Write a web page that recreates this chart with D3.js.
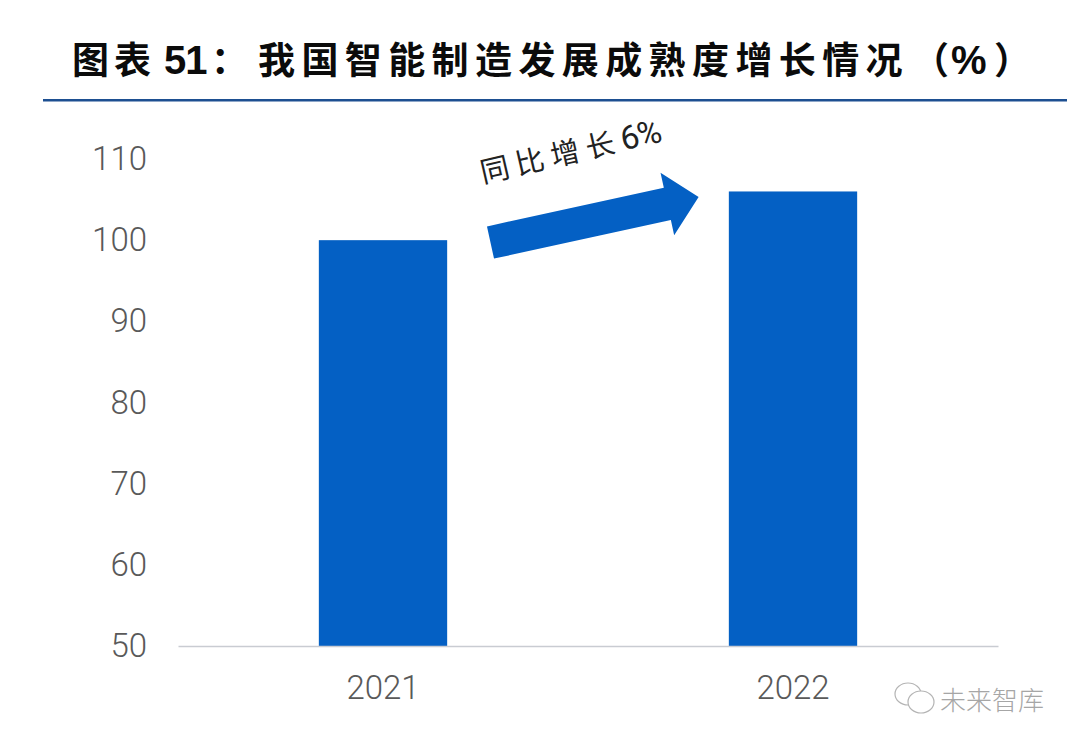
<!DOCTYPE html>
<html><head><meta charset="utf-8">
<script src="https://cdn.jsdelivr.net/npm/d3@7"></script>
<style>
html,body{margin:0;padding:0;background:#fff;}
svg{display:block;}
</style></head><body>
<svg id="c" width="1080" height="747"></svg>
<script>
const categories = ["2021", "2022"];
const values = [100, 106];
const yTicks = [50, 60, 70, 80, 90, 100, 110];
const titleParts = ["图表", "51", "：", "我国智能制造发展成熟度增长情况", "（", "%", "）"];
const annotationParts = ["同比增长", "6%"];
const watermarkText = "未来智库";

const svg = d3.select("#c");
const W = 1080, H = 747;
const BLUE = "#0460c4";
const m = {left:178, right:998, top:159, bottom:646};
const CJK = "'Noto Sans CJK SC'", LATIN = "'Liberation Sans'";

const x = d3.scaleBand().domain(categories).range([m.left, m.right]).paddingInner(0.687).paddingOuter(0.3435);
const y = d3.scaleLinear().domain([50,110]).range([m.bottom, m.top]);

svg.append("rect").attr("width",W).attr("height",H).attr("fill","#fff");

// Title: each segment gets its own start, font and tracking
const titleX  = [72, 164, 211, 258, 912, 951, 994];
const titleLS = [5, -1, 0, 6.4, 0, 0, 0];
const titleFS = [37, 40, 37, 37, 37, 40, 37];
const titleF  = [CJK, LATIN, CJK, CJK, CJK, LATIN, CJK];
const title = svg.append("text").attr("y",74).attr("font-weight",700).attr("fill","#0b0b0b");
title.selectAll("tspan").data(titleParts).join("tspan")
  .attr("x",(d,i)=>titleX[i]).attr("font-family",(d,i)=>titleF[i])
  .attr("font-size",(d,i)=>titleFS[i]).attr("letter-spacing",(d,i)=>titleLS[i]).text(d=>d);
svg.append("rect").attr("x",43).attr("y",99).attr("width",1024).attr("height",2.5).attr("fill","#1d4f91");

// Bars
svg.selectAll("rect.bar").data(values).join("rect").attr("class","bar")
  .attr("x",(d,i)=>x(categories[i])).attr("width",x.bandwidth())
  .attr("y",d=>y(d)).attr("height",d=>y(50)-y(d)).attr("fill",BLUE);

// Axes
const gy = svg.append("g").attr("transform",`translate(${m.left},0)`)
  .call(d3.axisLeft(y).tickValues(yTicks).tickSize(0).tickPadding(31));
gy.select(".domain").remove();
gy.selectAll("text").attr("font-family","Roboto").attr("font-weight",300).attr("font-size",33).attr("fill","#595959");

const gx = svg.append("g").attr("transform",`translate(0,${m.bottom})`)
  .call(d3.axisBottom(x).tickSize(0).tickPadding(30));
gx.select(".domain").attr("stroke","#c9ccd2").attr("stroke-width",1.6);
gx.selectAll("text").attr("font-family","Roboto").attr("font-weight",300).attr("font-size",33).attr("fill","#595959");

// Arrow annotation (local frame: along the arrow's direction)
const arrow = d3.path();
[[0,-16.5],[181,-16.5],[181,-32],[213,0],[181,32],[181,16.5],[0,16.5]].forEach((p,i)=> i? arrow.lineTo(p[0],p[1]) : arrow.moveTo(p[0],p[1]));
arrow.closePath();
svg.append("path").attr("d",arrow.toString()).attr("fill",BLUE)
  .attr("transform","translate(490.5,242.5) rotate(-12.3)");

const annF = [CJK, "Roboto"], annFS = [29, 33], annLS = [7, -1.5];
const ann = svg.append("text").attr("transform","translate(483,183) rotate(-13)").attr("fill","#222");
ann.selectAll("tspan").data(annotationParts).join("tspan")
  .attr("font-family",(d,i)=>annF[i]).attr("font-size",(d,i)=>annFS[i])
  .attr("letter-spacing",(d,i)=>annLS[i]).text(d=>d);

// Watermark
const wm = svg.append("g").attr("fill","none").attr("stroke","#b4b4b4").attr("stroke-width",1.2);
wm.append("ellipse").attr("cx",908).attr("cy",694).attr("rx",13).attr("ry",11);
wm.append("ellipse").attr("cx",921).attr("cy",702).attr("rx",13).attr("ry",11).attr("fill","#fff");
svg.append("text").attr("x",940).attr("y",710)
  .attr("font-family",CJK).attr("font-weight",300).attr("font-size",26).attr("fill","#a6a6a6")
  .text(watermarkText);
</script>
</body></html>
